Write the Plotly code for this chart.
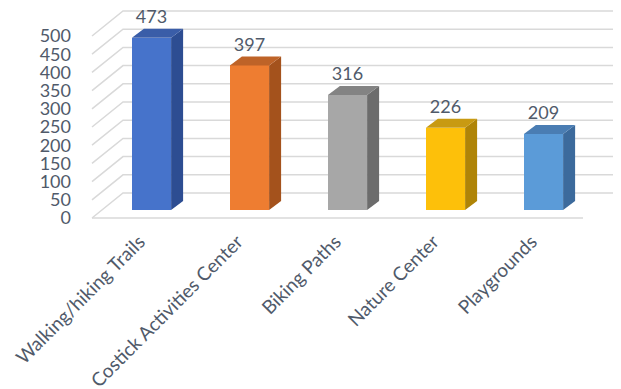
import plotly.graph_objects as go

# ---- data ----
categories = ["Walking/hiking Trails", "Costick Activities Center", "Biking Paths",
              "Nature Center", "Playgrounds"]
values = [473, 397, 316, 226, 209]
y_ticks = [0, 50, 100, 150, 200, 250, 300, 350, 400, 450, 500]

front_colors = ["#4673CB", "#EE7D31", "#A7A7A7", "#FDC00A", "#5B9BD8"]
side_colors = ["#2D4D92", "#A4521C", "#6C6C6C", "#AF8407", "#3C6A9C"]
top_colors = ["#3A5DA8", "#BE6328", "#838383", "#C89A12", "#4A7DB3"]

# ---- geometry (page pixels of the target frame; the html body adds an 8px margin) ----
PAGE_W, PAGE_H, BODY = 621, 389, 8
W, H = PAGE_W - BODY, PAGE_H - BODY
plot_l, plot_r, plot_t, plot_b = 76, 621, 8, 221
ml, mr, mt, mb = plot_l - BODY, (BODY + W) - plot_r, plot_t - BODY, (BODY + H) - plot_b

px_per_x = 98.0           # one category step in px
x0_px = 151.5             # pixel of first category centre
px_per_y = 182.0 / 500    # pixels per value unit
y0_px = 210.0             # pixel of value 0 (bar front base)

xr = [(plot_l - x0_px) / px_per_x, (plot_r - x0_px) / px_per_x]
yr = [-(plot_b - y0_px) / px_per_y, (y0_px - plot_t) / px_per_y]

def dx(p):
    return p / px_per_x

def dy(p):
    return p / px_per_y

bar_w = 0.4
depth_x, depth_y = dx(12), dy(9)
back_off = dy(17)      # back wall offset above front value
front_off = dy(8)      # front floor edge offset below front value
wall_left_back = dx(123 - x0_px)
wall_left_front = dx(92 - x0_px)
wall_right_back = dx(617 - x0_px)
floor_right_front = dx(583 - x0_px)

grid_color = "#D9D9D9"
text_color = "#505A6A"
font_family = "Lato, 'Open Sans', sans-serif"

fig = go.Figure()

# gridlines (back wall + left side wall diagonals + floor edge), below the bars
shapes = []
for t in y_ticks:
    path = (f"M {wall_left_front},{t - front_off} L {wall_left_back},{t + back_off} "
            f"L {wall_right_back},{t + back_off}")
    shapes.append(dict(type="path", path=path, xref="x", yref="y", layer="below",
                       line=dict(color=grid_color, width=1.5)))
shapes.append(dict(type="line", xref="x", yref="y", layer="below",
                   x0=wall_left_front, x1=floor_right_front,
                   y0=-front_off, y1=-front_off,
                   line=dict(color=grid_color, width=1.5)))

# front faces
fig.add_trace(go.Bar(x=list(range(len(values))), y=values, width=bar_w,
                     marker=dict(color=front_colors, line=dict(width=0)),
                     hovertext=categories, showlegend=False))

# side and top faces
for i, v in enumerate(values):
    xl, xrgt = i - bar_w / 2, i + bar_w / 2
    fig.add_trace(go.Scatter(
        x=[xrgt, xrgt + depth_x, xrgt + depth_x, xrgt, xrgt],
        y=[0, depth_y, v + depth_y, v, 0],
        fill="toself", fillcolor=side_colors[i], mode="lines",
        line=dict(width=0, color=side_colors[i]),
        hoverinfo="skip", showlegend=False))
    fig.add_trace(go.Scatter(
        x=[xl, xl + depth_x, xrgt + depth_x, xrgt, xl],
        y=[v, v + depth_y, v + depth_y, v, v],
        fill="toself", fillcolor=top_colors[i], mode="lines",
        line=dict(width=0, color=top_colors[i]),
        hoverinfo="skip", showlegend=False))

# data labels
fig.add_trace(go.Scatter(
    x=list(range(len(values))), y=[v + depth_y + dy(10) for v in values],
    mode="text", text=[str(v) for v in values], textposition="middle center",
    textfont=dict(size=18, color=text_color, family=font_family),
    cliponaxis=False, hoverinfo="skip", showlegend=False))

fig.update_layout(
    width=W, height=H,
    margin=dict(l=ml, r=mr, t=mt, b=mb, pad=0),
    paper_bgcolor="white", plot_bgcolor="white",
    bargap=0, shapes=shapes,
    xaxis=dict(range=xr, showgrid=False, zeroline=False, showline=False,
               automargin=False,
               tickmode="array",
               tickvals=[i - dx(12) for i in range(len(categories))],
               ticktext=categories, tickangle=-45, ticks="",
               ticklabelstandoff=5,
               tickfont=dict(size=19, color=text_color, family=font_family)),
    yaxis=dict(range=yr, showgrid=False, zeroline=False, showline=False,
               automargin=False,
               tickmode="array", tickvals=[t - front_off for t in y_ticks],
               ticktext=[str(t) for t in y_ticks], ticks="",
               ticklabelstandoff=4,
               tickfont=dict(size=18, color=text_color, family=font_family)),
)

fig.write_html("out.html")
